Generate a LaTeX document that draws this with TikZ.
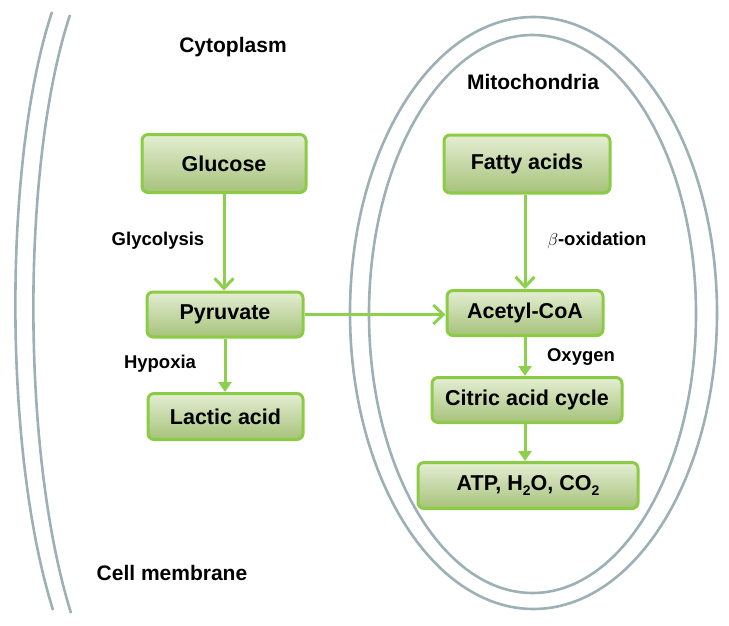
\documentclass[tikz,border=0pt]{standalone}
\usepackage{fontspec}
\setmainfont{Liberation Sans}
\usetikzlibrary{arrows.meta,shadows}
\definecolor{boxline}{HTML}{8CCB45}
\definecolor{boxtop}{HTML}{E4EED3}
\definecolor{boxbot}{HTML}{A6C27A}
\definecolor{arrowgreen}{HTML}{8DD04C}
\definecolor{membrane}{HTML}{9CB0B6}
\newcommand{\subtwo}{\raisebox{-0.4ex}{\fontsize{14}{14}\selectfont 2}}
\tikzset{
  stepbox/.style={draw=boxline, line width=3pt, rounded corners=6pt,
    top color=boxtop, bottom color=boxbot, inner sep=0pt,
    font=\fontsize{21.5}{24}\selectfont\bfseries, text=black},
  lbl/.style={font=\fontsize{18.5}{21}\selectfont\bfseries, text=black, inner sep=0pt},
  biglbl/.style={font=\fontsize{21}{24}\selectfont\bfseries, text=black, inner sep=0pt},
  longarrow/.style={draw=arrowgreen, line width=3pt, -{Straight Barb[length=10pt,width=19pt,line width=3pt]}},
  shortarrow/.style={draw=arrowgreen, line width=3pt, -{Triangle[length=10pt,width=13pt]}},
  memb/.style={draw=membrane, line width=2.6pt}
}
\begin{document}
\begin{tikzpicture}[x=1pt,y=-1pt]
\useasboundingbox (0,0) rectangle (729,626);
% cell membrane
\draw[memb] (52,12) .. controls (3,160) and (3,450) .. (53,610);
\draw[memb] (70,15) .. controls (21,163) and (21,453) .. (71,613);
% mitochondria
\draw[memb] (533.5,313) ellipse [x radius=183.5, y radius=296];
\draw[memb] (532.5,314) ellipse [x radius=163.5, y radius=279];
% labels
\node[biglbl] (cyto) at (233,47) {Cytoplasm};
\node[biglbl] (mito) at (533,82) {Mitochondria};
\node[biglbl] (cell) at (172,573) {Cell membrane};
% boxes
\node[stepbox, minimum width=164pt, minimum height=58pt] (glu) at (224,163.5) {Glucose};
\node[stepbox, minimum width=156pt, minimum height=45pt] (pyr) at (225,314.5) {Pyruvate};
\node[stepbox, minimum width=155pt, minimum height=46pt] (lac) at (225.5,416.5) {Lactic acid};
\node[stepbox, minimum width=166pt, minimum height=58pt] (fat) at (527,164) {Fatty acids};
\node[stepbox, minimum width=156pt, minimum height=45pt] (ace) at (525,313) {Acetyl-CoA};
\node[stepbox, minimum width=190pt, minimum height=45pt] (cit) at (527,400) {Citric acid cycle};
\node[stepbox, minimum width=220pt, minimum height=46pt] (atp) at (528,485.5) {ATP, H\subtwo O, CO\subtwo};
% arrow labels
\node[lbl] (glyc) at (158,241) {Glycolysis};
\node[lbl] (hyp) at (160,364) {Hypoxia};
\node[lbl] (box) at (597,240) {$\beta$-oxidation};
\node[lbl] (oxy) at (581,357) {Oxygen};
% arrows
\draw[longarrow] (glu.south) -- (glu.south |- pyr.north);
\draw[shortarrow] (pyr.south) -- (pyr.south |- lac.north);
\draw[longarrow] (pyr.east) -- (pyr.east -| ace.west);
\draw[longarrow] (fat.south -| ace.north) -- (ace.north);
\draw[shortarrow] (ace.south) -- (ace.south |- cit.north);
\draw[shortarrow] (ace.south |- cit.south) -- (ace.south |- atp.north);
\end{tikzpicture}
\end{document}
